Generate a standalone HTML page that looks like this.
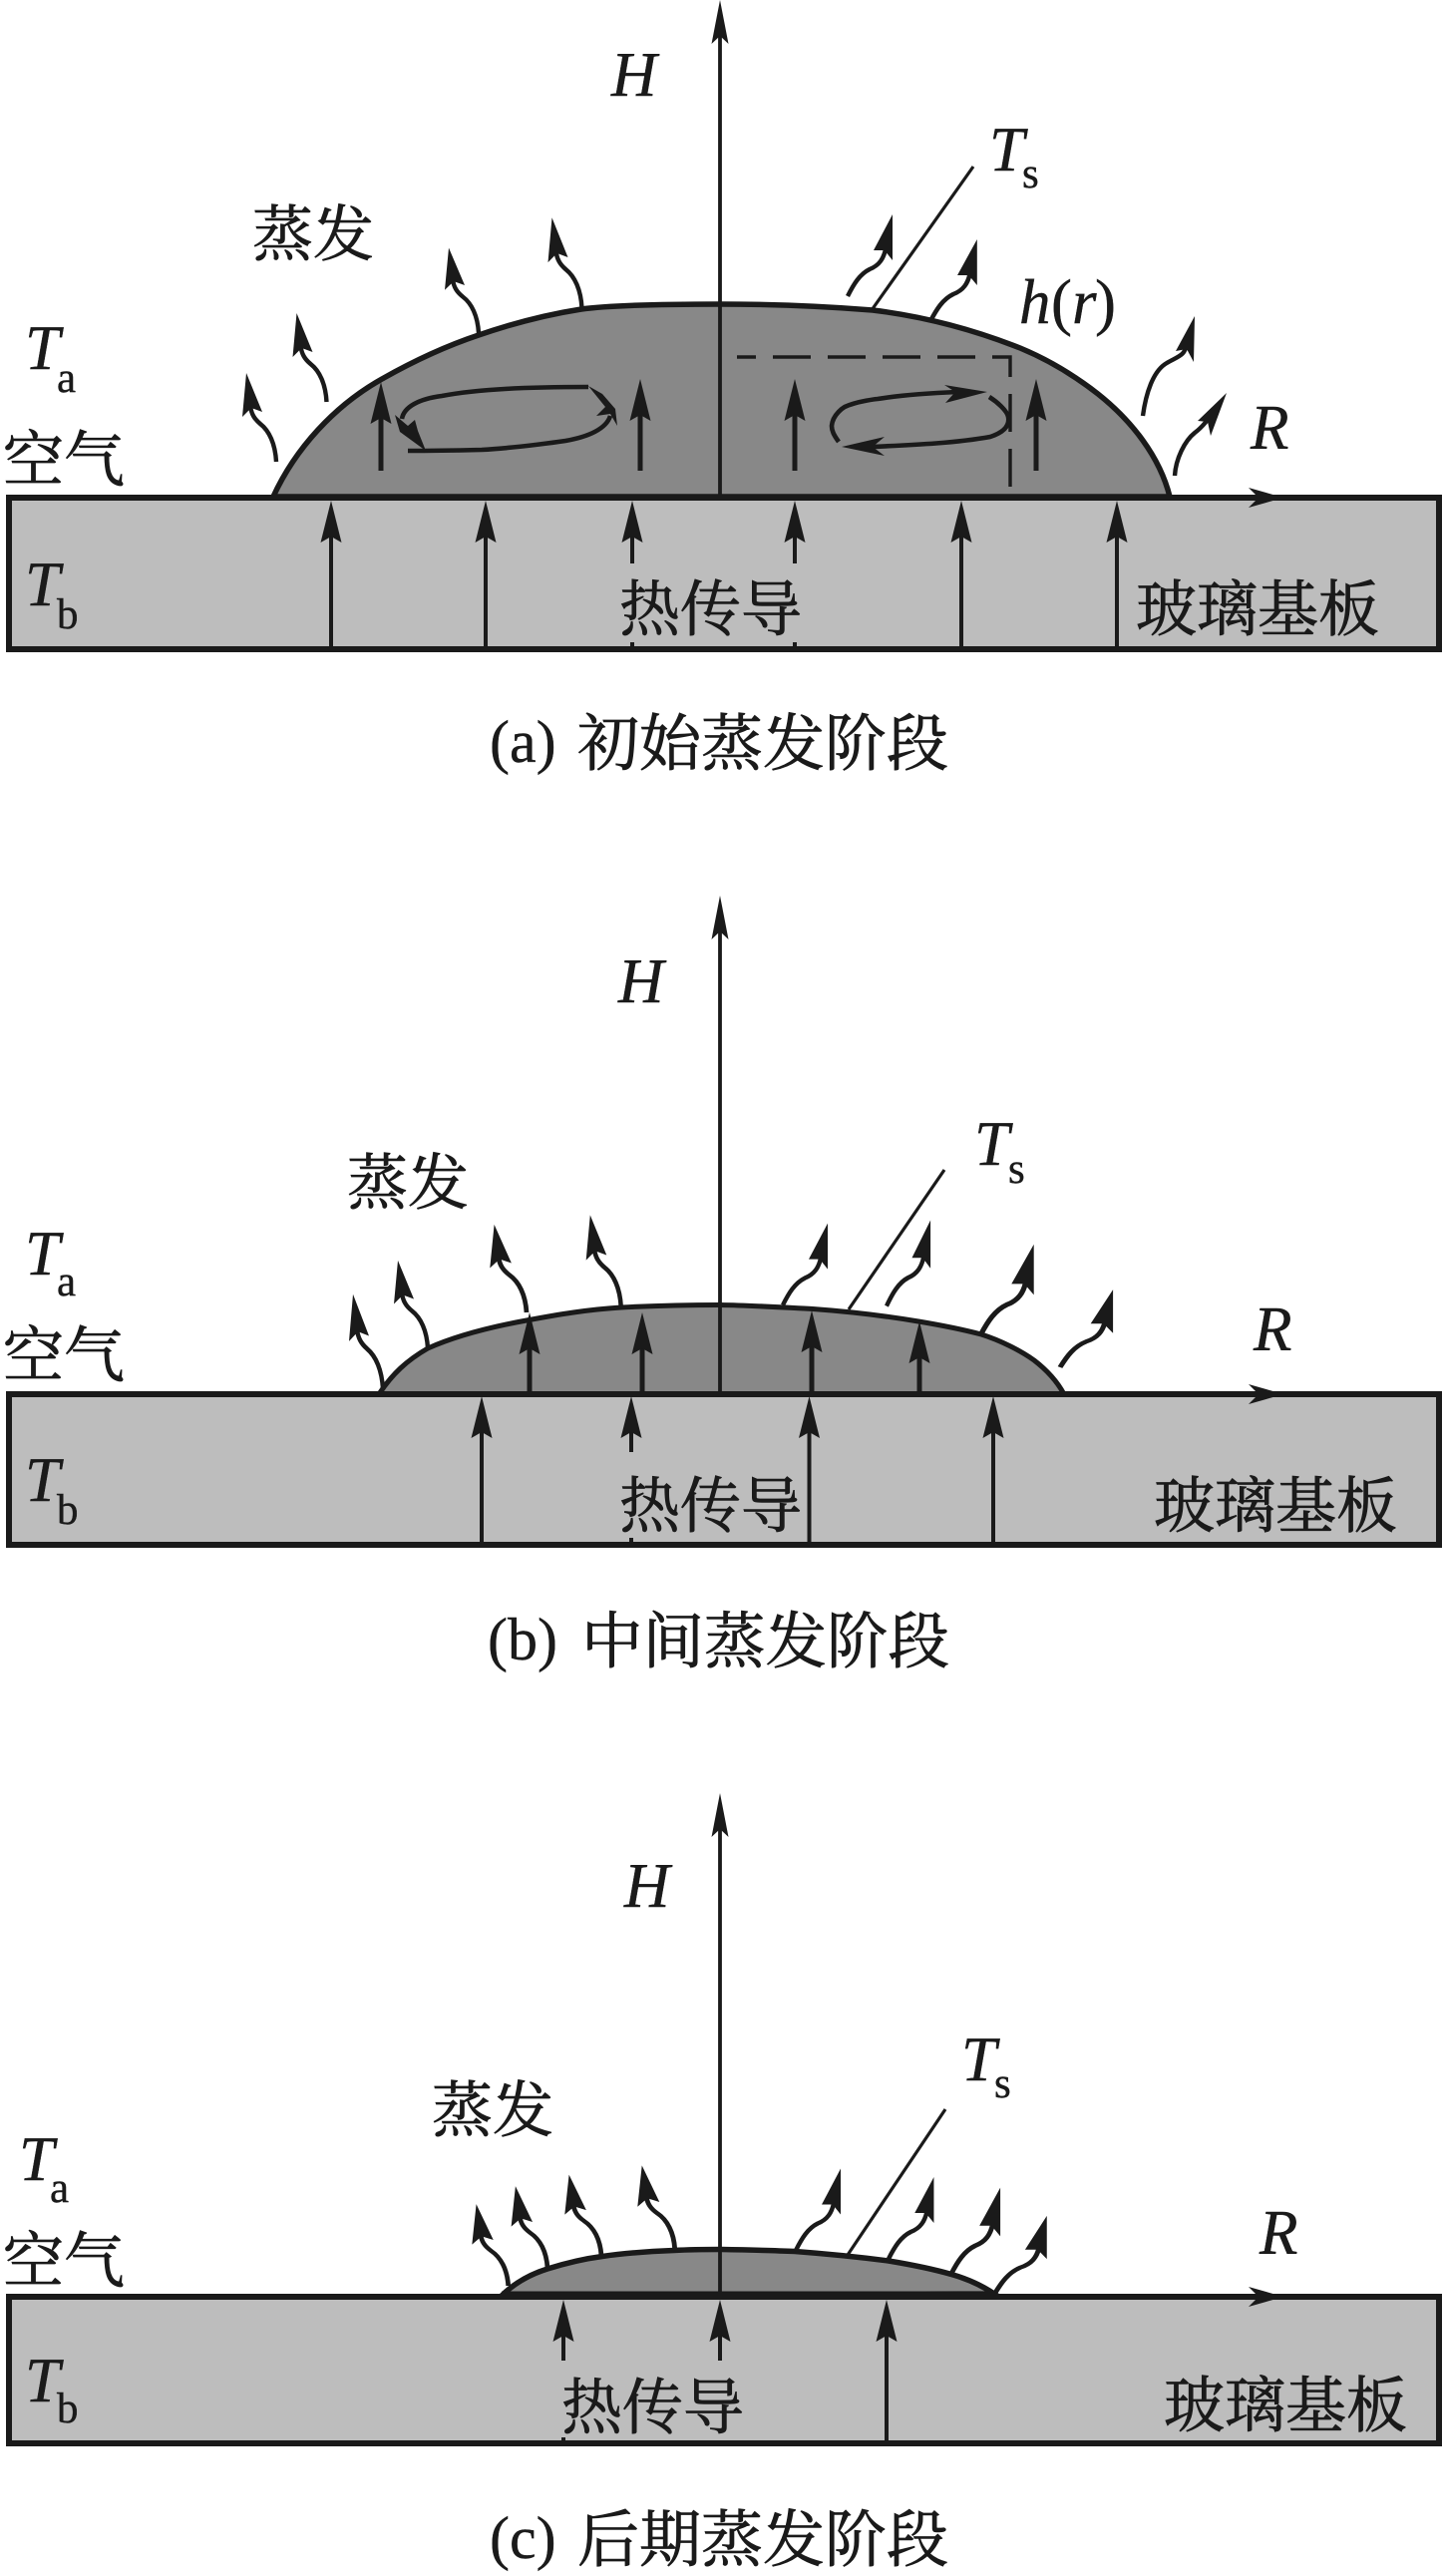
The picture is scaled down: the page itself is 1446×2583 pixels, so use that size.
<!DOCTYPE html>
<html><head><meta charset="utf-8"><style>
html,body{margin:0;padding:0;background:#fff}
svg{display:block}
text{fill:#1a1a1a}
.i{font-family:"Liberation Serif",serif;font-style:italic;font-size:63px;stroke:#1a1a1a;stroke-width:.4}
.s{font-family:"Liberation Serif",serif;font-size:43px;stroke:#1a1a1a;stroke-width:.4}
.c{font-family:"Liberation Serif","Noto Serif CJK SC",serif;font-size:61px;stroke:#1a1a1a;stroke-width:.8}
.p{font-family:"Liberation Serif",serif;font-size:60px;stroke:#1a1a1a;stroke-width:.4}
</style></head><body>
<svg width="1446" height="2583" viewBox="0 0 1446 2583" xmlns="http://www.w3.org/2000/svg">
<defs>
<path id="h" d="M0,0L10.5,42L0,36L-10.5,42Z" fill="#1a1a1a"/>
<path id="ah" d="M0,0L8.5,44L0,36L-8.5,44Z" fill="#1a1a1a"/>
<g id="L"><path d="M0,0C-1,-18 -7,-31 -16,-38C-22,-43 -25,-48 -26,-56" fill="none" stroke="#1a1a1a" stroke-width="4.4"/><path d="M-30,-89L-34,-45L-25,-54L-14,-50Z" fill="#1a1a1a"/></g>
<g id="R"><path d="M0,0C6,-12 12,-22 22,-27C32,-31 36,-38 38,-47" fill="none" stroke="#1a1a1a" stroke-width="4.4"/><path d="M45,-82L45,-36L37,-46L26,-46Z" fill="#1a1a1a"/></g>
</defs>

<!-- panel a -->
<rect x="9" y="499" width="1434" height="152" fill="#bdbdbd" stroke="#1a1a1a" stroke-width="6"/>
<path d="M274,498C296,450 335,407 383,380C413,363 447,347 480,336C512,325 548,315.5 583,310C615,305.5 680,305 722,305C770,305 825,307 875,311C925,317 975,330 1023,349C1052,361 1078,377 1101,395C1135,422 1163,458 1173,498Z" fill="#888" stroke="#1a1a1a" stroke-width="5.5"/>
<rect x="6" y="496" width="1440" height="6" fill="#1a1a1a"/>
<path d="M722,499V30" stroke="#1a1a1a" stroke-width="3.8"/>
<use href="#ah" x="722" y="0"/>
<path d="M1160,499H1270" stroke="#1a1a1a" stroke-width="3"/>
<path d="M1287,499L1252,489L1262,499L1252,509Z" fill="#1a1a1a"/>
<g stroke="#1a1a1a" stroke-width="5">
<path d="M382,472V415M642,472V412M797,472V412M1039,472V412"/>
</g>
<use href="#h" x="382" y="383"/><use href="#h" x="642" y="380"/><use href="#h" x="797" y="380"/><use href="#h" x="1039" y="380"/>
<g stroke="#1a1a1a" stroke-width="4">
<path d="M332,651V530M487,651V530M964,651V530M1120,651V530M634,565V530M634,644V651M797,565V530M797,644V651"/>
</g>
<use href="#h" x="332" y="502"/><use href="#h" x="487" y="502"/><use href="#h" x="634" y="502"/><use href="#h" x="797" y="502"/><use href="#h" x="964" y="502"/><use href="#h" x="1120" y="502"/>
<path d="M739,358H1013V497" fill="none" stroke="#1a1a1a" stroke-width="3.4" stroke-dasharray="38 17" stroke-dashoffset="19"/>
<path d="M874,311L976,167" stroke="#1a1a1a" stroke-width="3.2"/>
<!-- left loop -->
<g fill="none" stroke="#1a1a1a" stroke-width="4.6">
<path d="M590,388C530,388 480,390 443,397C420,400 405,408 403,420"/>
<path d="M409,452C440,452 483,451 483,451C520,449 567,442 567,442C590,438 608,430 612,417"/>
</g>
<path d="M396,416L401,433L427,452L419,432L416,421L409,427Z" fill="#1a1a1a"/>
<path d="M590,387L604,395L617,410L619,427L612,415L598,417L607,408Z" fill="#1a1a1a"/>
<!-- right loop -->
<g fill="none" stroke="#1a1a1a" stroke-width="4.6">
<path d="M841,443C836,436 834,432 834,427C835,415 847,408 847,408C860,402 880,400 880,400C905,396 935,394 960,393"/>
<path d="M992,398C1000,403 1010,412 1011,418C1013,428 1005,434 993,438C960,444 920,446 875,448"/>
</g>
<path d="M990,393L947,386L958,393L948,404Z" fill="#1a1a1a"/>
<path d="M844,448L887,438L875,448L887,457Z" fill="#1a1a1a"/>
<!-- curls a -->
<use href="#L" transform="translate(277,463)"/>
<use href="#L" transform="translate(327.5,403)"/>
<use href="#L" transform="translate(480,334) scale(1,.96)"/>
<use href="#L" transform="translate(583.5,309) scale(1,1.02)"/>
<use href="#R" transform="translate(850,297)"/>
<use href="#R" transform="translate(933,322) scale(1.04,1)"/>
<g fill="none" stroke="#1a1a1a" stroke-width="4.4">
<path d="M1146,417C1149,395 1156,372 1170,364C1180,358 1190,356 1189,345"/>
<path d="M1178,477C1179,460 1188,442 1198,434C1206,428 1208,424 1212,420"/>
</g>
<path d="M1198,317L1197,363L1190,350L1179,352Z" fill="#1a1a1a"/>
<path d="M1230,394L1214,437L1211,423L1201,422Z" fill="#1a1a1a"/>
<text class="i" x="613" y="96">H</text>
<text class="c" x="253" y="256">蒸发</text>
<text class="i" x="25" y="370">T</text><text class="s" x="57" y="393">a</text>
<text class="c" x="3" y="482">空气</text>
<text class="i" x="25" y="607">T</text><text class="s" x="57" y="630">b</text>
<text class="c" x="621" y="632">热传导</text>
<text class="c" x="1139" y="632">玻璃基板</text>
<text class="i" x="992" y="171">T</text><text class="s" x="1025" y="188">s</text>
<text class="i" x="1022" y="324">h</text><text x="1054" y="324" class="p" style="font-size:63px">(</text><text class="i" x="1075" y="324">r</text><text x="1098" y="324" class="p" style="font-size:63px">)</text>
<text class="i" x="1254" y="450">R</text>
<text class="p" x="491" y="764">(a)</text>
<text class="c" x="579" y="767" style="font-size:62px">初始蒸发阶段</text>

<!-- panel b -->
<rect x="9" y="1398" width="1434" height="151" fill="#bdbdbd" stroke="#1a1a1a" stroke-width="6"/>
<path d="M380,1398C393,1378 408,1364 429,1352C458,1339 495,1330 528,1324C560,1318 590,1313 623,1311C660,1309 690,1308.5 722,1308.5C755,1309 785,1311 815,1312.5C850,1315 885,1319 921,1325C945,1329 965,1333 984,1338C1003,1344 1023,1354 1037,1364C1050,1374 1060,1385 1067,1398Z" fill="#888" stroke="#1a1a1a" stroke-width="5"/>
<rect x="6" y="1395" width="1440" height="6" fill="#1a1a1a"/>
<path d="M722,1398V930" stroke="#1a1a1a" stroke-width="3.8"/>
<use href="#ah" x="722" y="898"/>
<path d="M1160,1398H1270" stroke="#1a1a1a" stroke-width="3"/>
<path d="M1287,1398L1252,1388L1262,1398L1252,1408Z" fill="#1a1a1a"/>
<g stroke="#1a1a1a" stroke-width="5"><path d="M531,1398V1350M644,1398V1350M814,1398V1350M922,1398V1360"/></g>
<use href="#h" x="531" y="1316"/><use href="#h" x="644" y="1316"/><use href="#h" x="814" y="1314"/><use href="#h" x="922" y="1325"/>
<g stroke="#1a1a1a" stroke-width="4"><path d="M483,1549V1430M811.5,1549V1430M996,1549V1430M633,1456V1430M633,1542V1549"/></g>
<use href="#h" x="483" y="1400"/><use href="#h" x="633" y="1400"/><use href="#h" x="811.5" y="1400"/><use href="#h" x="996" y="1400"/>
<path d="M851,1313L947,1173" stroke="#1a1a1a" stroke-width="3.2"/>
<use href="#L" transform="translate(384,1393) scale(1,1.07)"/>
<use href="#L" transform="translate(429,1352) scale(1,.99)"/>
<use href="#L" transform="translate(528,1316) scale(1.08,.99)"/>
<use href="#L" transform="translate(622.7,1310) scale(1.03,1.03)"/>
<use href="#R" transform="translate(785,1308.6)"/>
<use href="#R" transform="translate(889,1309.6) scale(.98,1.05)"/>
<use href="#R" transform="translate(983.6,1338) scale(1.18,1.1)"/>
<use href="#R" transform="translate(1063,1371) scale(1.18,.95)"/>
<text class="i" x="620" y="1005">H</text>
<text class="c" x="348" y="1207">蒸发</text>
<text class="i" x="25" y="1278">T</text><text class="s" x="57" y="1299">a</text>
<text class="c" x="3" y="1380">空气</text>
<text class="i" x="25" y="1505">T</text><text class="s" x="57" y="1528">b</text>
<text class="c" x="621" y="1531">热传导</text>
<text class="c" x="1157" y="1531">玻璃基板</text>
<text class="i" x="977" y="1168">T</text><text class="s" x="1011" y="1186">s</text>
<text class="i" x="1257" y="1354">R</text>
<text class="p" x="489" y="1664">(b)</text>
<text class="c" x="583" y="1667" style="font-size:61.5px">中间蒸发阶段</text>

<!-- panel c -->
<path d="M503,2302C515,2290 530,2281 549,2275C565,2270 585,2265 604,2262.5C628,2259 650,2257.5 676,2256.5C695,2255.5 710,2255.5 723,2255.5C750,2256 775,2256.5 797,2257.5C830,2260 860,2263 891,2267C915,2271 935,2275 954,2280.5C970,2285 985,2292 997,2300Z" fill="#888" stroke="#1a1a1a" stroke-width="5.5"/>
<rect x="9" y="2303" width="1434" height="147" fill="#bdbdbd" stroke="#1a1a1a" stroke-width="6"/>
<path d="M503,2300H990" stroke="#1a1a1a" stroke-width="5"/>
<path d="M722,2302V1830" stroke="#1a1a1a" stroke-width="3.8"/>
<use href="#ah" x="722" y="1798"/>
<path d="M1160,2303H1270" stroke="#1a1a1a" stroke-width="3"/>
<path d="M1287,2303L1252,2293L1262,2303L1252,2313Z" fill="#1a1a1a"/>
<g stroke="#1a1a1a" stroke-width="4"><path d="M565,2367V2335M565,2444V2450M722,2367V2335M889,2450V2335"/></g>
<use href="#h" x="565" y="2306"/><use href="#h" x="722" y="2306"/><use href="#h" x="889" y="2306"/>
<path d="M850,2261L948,2115" stroke="#1a1a1a" stroke-width="3.2"/>
<use href="#L" transform="translate(509.7,2292) scale(1.07,.92)"/>
<use href="#L" transform="translate(549,2274) scale(1.07,.92)"/>
<use href="#L" transform="translate(603,2261.6) scale(1.08,.91)"/>
<use href="#L" transform="translate(676.7,2255) scale(1.1,.94)"/>
<use href="#R" transform="translate(798,2256.5)"/>
<use href="#R" transform="translate(891,2265) scale(1.01,1)"/>
<use href="#R" transform="translate(953.6,2280.5) scale(1.1,1.06)"/>
<use href="#R" transform="translate(998,2299) scale(1.15,.94)"/>
<text class="i" x="626" y="1912">H</text>
<text class="c" x="433" y="2137">蒸发</text>
<text class="i" x="19" y="2186">T</text><text class="s" x="50" y="2208">a</text>
<text class="c" x="3" y="2288">空气</text>
<text class="i" x="25" y="2408">T</text><text class="s" x="57" y="2429">b</text>
<text class="c" x="563" y="2435">热传导</text>
<text class="c" x="1167" y="2433">玻璃基板</text>
<text class="i" x="964" y="2086">T</text><text class="s" x="997" y="2103">s</text>
<text class="i" x="1263" y="2260">R</text>
<text class="p" x="491" y="2565">(c)</text>
<text class="c" x="579" y="2568" style="font-size:62px">后期蒸发阶段</text>
</svg>
</body></html>
